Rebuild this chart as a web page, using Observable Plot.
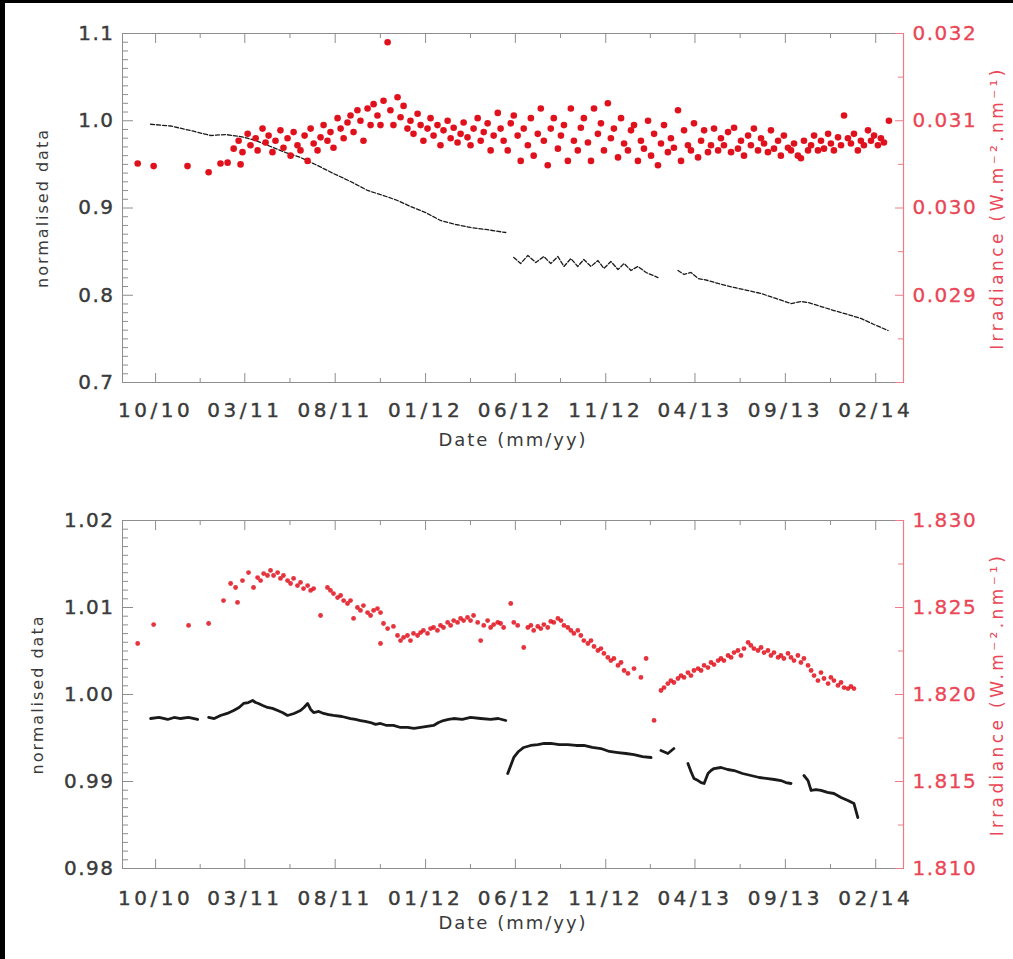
<!DOCTYPE html>
<html><head><meta charset="utf-8">
<script src="https://cdn.jsdelivr.net/npm/d3@7"></script>
<script src="https://cdn.jsdelivr.net/npm/@observablehq/plot@0.6"></script>
<style>
html,body{margin:0;padding:0;background:#fff;}
body{width:1013px;height:959px;position:relative;overflow:hidden;font-family:"DejaVu Sans",sans-serif;}
.layer{position:absolute;left:0;}
.layer svg{display:block;}
#bl{position:absolute;left:0;top:0;width:5px;height:959px;background:#000;}
#bt{position:absolute;left:0;top:0;width:1013px;height:3px;background:#000;}
g[aria-label="x-axis tick label"] text{letter-spacing:3.5px;stroke:#3a3a3a;stroke-width:0.4px;}
g[aria-label="y-axis tick label"] text{letter-spacing:1.5px;stroke:#3a3a3a;stroke-width:0.4px;}
.red g[aria-label="y-axis tick label"] text{stroke:#ea4656;stroke-width:0.3px;}
g[aria-label="text"] text{letter-spacing:2px;}
.red g[aria-label="text"] text{letter-spacing:3.4px;}
</style></head><body>
<div id="p1l" class="layer" style="top:0"></div>
<div id="p1r" class="layer red" style="top:0"></div>
<div id="p2l" class="layer" style="top:480px"></div>
<div id="p2r" class="layer red" style="top:480px"></div>
<div id="bl"></div><div id="bt"></div>
<script>
// ---------- data (time in decimal years) ----------
const xTickDates = ["2010-10-01","2011-03-01","2011-08-01","2012-01-01","2012-06-01","2012-11-01","2013-04-01","2013-09-01","2014-02-01"];
const dateRange = ["2010-08-06","2014-03-20"];

const topLeftTicks = [0.7, 0.8, 0.9, 1.0, 1.1];
const topRightTicks = [0.029, 0.030, 0.031, 0.032];
const botLeftTicks = [0.98, 0.99, 1.00, 1.01, 1.02];
const botRightTicks = [1.810, 1.815, 1.820, 1.825, 1.830];

// panel 1: normalised data (black)
const topNormalised = [
 [2010.725,0.996],[2010.818,0.994],[2010.924,0.988],[2011.003,0.9831],[2011.073,0.9842],[2011.142,0.9819],
 [2011.212,0.9774],[2011.281,0.9705],[2011.351,0.9636],[2011.420,0.9579],[2011.499,0.9487],[2011.573,0.9395],
 [2011.652,0.9304],[2011.731,0.9201],[2011.805,0.9143],[2011.870,0.9086],[2011.930,0.9017],[2012.000,0.8948],
 [2012.069,0.8857],[2012.139,0.8811],[2012.208,0.8777],[2012.278,0.8754],[2012.371,0.8719],
 null,
 [2012.408,0.8433],[2012.440,0.8364],[2012.473,0.8456],[2012.510,0.8375],[2012.547,0.8444],[2012.579,0.8364],
 [2012.612,0.8444],[2012.640,0.8330],[2012.672,0.8421],[2012.704,0.8330],[2012.732,0.8410],[2012.765,0.8330],
 [2012.797,0.8398],[2012.825,0.8307],[2012.857,0.8387],[2012.890,0.8295],[2012.918,0.8364],[2012.950,0.8284],
 [2012.982,0.8330],[2013.020,0.8261],[2013.075,0.8203],
 null,
 [2013.168,0.8284],[2013.196,0.8238],[2013.228,0.8261],[2013.261,0.8192],[2013.307,0.8169],[2013.354,0.8135],
 [2013.428,0.8089],[2013.493,0.8054],[2013.553,0.8020],[2013.622,0.7963],[2013.692,0.7905],[2013.738,0.7928],
 [2013.771,0.7917],[2013.831,0.7871],[2013.891,0.7825],[2013.956,0.7779],[2014.016,0.7734],[2014.077,0.7665],
 [2014.142,0.7596]
];

// panel 1: irradiance (red)
const topIrradiance = [
 [2010.665,0.03051],[2010.739,0.03048],[2010.896,0.03048],[2010.994,0.03041],[2011.049,0.03051],[2011.082,0.03052],
 [2011.142,0.03050],[2011.110,0.03068],[2011.133,0.03077],[2011.151,0.03064],[2011.175,0.03085],[2011.188,0.03072],
 [2011.212,0.03080],[2011.221,0.03066],[2011.244,0.03091],[2011.258,0.03075],[2011.272,0.03083],[2011.290,0.03064],
 [2011.304,0.03077],[2011.327,0.03089],[2011.341,0.03069],[2011.360,0.03080],[2011.374,0.03060],[2011.388,0.03087],
 [2011.406,0.03072],[2011.420,0.03066],[2011.439,0.03083],[2011.453,0.03054],[2011.467,0.03091],[2011.481,0.03074],
 [2011.499,0.03066],[2011.513,0.03081],[2011.527,0.03095],[2011.545,0.03077],[2011.559,0.03087],[2011.573,0.03069],
 [2011.592,0.03103],[2011.606,0.03091],[2011.620,0.03080],[2011.638,0.03098],[2011.652,0.03106],[2011.666,0.03087],
 [2011.684,0.03112],[2011.698,0.03100],[2011.712,0.03077],[2011.731,0.03114],[2011.745,0.03095],[2011.759,0.03119],
 [2011.777,0.03106],[2011.791,0.03095],[2011.805,0.03123],[2011.824,0.03190],[2011.837,0.03112],[2011.851,0.03095],
 [2011.870,0.03127],[2011.884,0.03104],[2011.898,0.03117],[2011.916,0.03091],[2011.930,0.03100],[2011.944,0.03085],
 [2011.963,0.03108],[2011.977,0.03095],[2011.990,0.03077],[2012.009,0.03091],[2012.023,0.03103],[2012.037,0.03083],
 [2012.055,0.03095],[2012.069,0.03072],[2012.083,0.03089],[2012.102,0.03100],[2012.116,0.03080],[2012.130,0.03092],
 [2012.148,0.03075],[2012.162,0.03085],[2012.176,0.03098],[2012.194,0.03081],[2012.208,0.03072],[2012.222,0.03091],
 [2012.241,0.03103],[2012.255,0.03077],[2012.269,0.03087],[2012.287,0.03097],[2012.301,0.03066],[2012.315,0.03083],
 [2012.334,0.03109],[2012.347,0.03091],[2012.361,0.03077],[2012.380,0.03066],[2012.394,0.03097],[2012.408,0.03106],
 [2012.426,0.03083],[2012.440,0.03054],[2012.454,0.03091],[2012.473,0.03072],[2012.487,0.03103],[2012.500,0.03060],
 [2012.519,0.03085],[2012.533,0.03114],[2012.547,0.03077],[2012.565,0.03049],[2012.579,0.03091],[2012.593,0.03103],
 [2012.612,0.03068],[2012.626,0.03083],[2012.640,0.03095],[2012.658,0.03054],[2012.672,0.03114],[2012.686,0.03077],
 [2012.704,0.03066],[2012.718,0.03092],[2012.732,0.03103],[2012.751,0.03075],[2012.765,0.03054],[2012.779,0.03114],
 [2012.797,0.03085],[2012.811,0.03097],[2012.825,0.03066],[2012.843,0.03120],[2012.857,0.03080],[2012.871,0.03091],
 [2012.890,0.03058],[2012.904,0.03103],[2012.918,0.03074],[2012.936,0.03066],[2012.950,0.03089],[2012.964,0.03095],
 [2012.982,0.03054],[2012.996,0.03077],[2013.010,0.03068],[2013.029,0.03100],[2013.043,0.03060],[2013.057,0.03085],
 [2013.075,0.03049],[2013.089,0.03074],[2013.103,0.03095],[2013.121,0.03064],[2013.135,0.03080],[2013.149,0.03069],
 [2013.168,0.03112],[2013.182,0.03054],[2013.196,0.03089],[2013.214,0.03072],[2013.228,0.03066],[2013.242,0.03097],
 [2013.261,0.03058],[2013.275,0.03077],[2013.289,0.03089],[2013.307,0.03064],[2013.321,0.03072],[2013.335,0.03091],
 [2013.354,0.03066],[2013.367,0.03080],[2013.381,0.03072],[2013.400,0.03087],[2013.414,0.03064],[2013.428,0.03092],
 [2013.446,0.03068],[2013.460,0.03077],[2013.474,0.03060],[2013.493,0.03083],[2013.506,0.03072],[2013.520,0.03091],
 [2013.539,0.03066],[2013.553,0.03080],[2013.567,0.03074],[2013.585,0.03064],[2013.599,0.03089],[2013.613,0.03068],
 [2013.632,0.03077],[2013.645,0.03060],[2013.659,0.03083],[2013.678,0.03069],[2013.692,0.03066],[2013.706,0.03074],
 [2013.724,0.03060],[2013.738,0.03057],[2013.752,0.03077],[2013.771,0.03066],[2013.785,0.03072],[2013.799,0.03083],
 [2013.817,0.03066],[2013.831,0.03077],[2013.845,0.03068],[2013.864,0.03085],[2013.877,0.03074],[2013.891,0.03066],
 [2013.910,0.03081],[2013.924,0.03072],[2013.938,0.03106],[2013.956,0.03080],[2013.970,0.03074],[2013.984,0.03085],
 [2014.002,0.03066],[2014.016,0.03077],[2014.030,0.03072],[2014.049,0.03089],[2014.063,0.03077],[2014.077,0.03083],
 [2014.095,0.03072],[2014.109,0.03080],[2014.123,0.03075],[2014.146,0.03100]
];

// panel 2: normalised data (black)
const botNormalised = [
 [2010.725,0.99724],[2010.764,0.99736],[2010.804,0.99713],[2010.834,0.99736],[2010.864,0.99724],[2010.900,0.99736],[2010.943,0.99713],
 null,
 [2010.994,0.99736],[2011.020,0.99724],[2011.049,0.99759],[2011.080,0.99782],[2011.110,0.99816],[2011.135,0.99851],[2011.156,0.99897],[2011.178,0.99908],[2011.198,0.99931],[2011.212,0.99908],[2011.225,0.99897],
 [2011.245,0.99874],[2011.267,0.99851],[2011.290,0.99840],[2011.314,0.99816],[2011.336,0.99793],[2011.360,0.99759],[2011.390,0.99782],[2011.420,0.99816],[2011.436,0.99851],[2011.453,0.99897],[2011.467,0.99828],[2011.481,0.99793],
 [2011.505,0.99805],[2011.527,0.99782],[2011.550,0.99770],[2011.573,0.99759],[2011.612,0.99747],[2011.652,0.99724],[2011.675,0.99713],[2011.698,0.99701],[2011.720,0.99690],[2011.745,0.99678],[2011.768,0.99656],[2011.791,0.99667],
 [2011.820,0.99644],[2011.851,0.99644],[2011.884,0.99621],[2011.916,0.99621],[2011.946,0.99610],[2011.977,0.99621],[2012.007,0.99633],[2012.037,0.99644],[2012.060,0.99678],[2012.083,0.99701],[2012.106,0.99713],[2012.130,0.99724],
 [2012.170,0.99713],[2012.208,0.99736],[2012.255,0.99724],[2012.301,0.99713],[2012.336,0.99724],[2012.371,0.99701],
 null,
 [2012.380,0.99092],[2012.394,0.99184],[2012.408,0.99276],[2012.430,0.99345],[2012.454,0.99391],[2012.486,0.99414],[2012.519,0.99425],[2012.549,0.99437],[2012.579,0.99437],[2012.618,0.99425],[2012.658,0.99425],
 [2012.695,0.99414],[2012.732,0.99414],[2012.771,0.99391],[2012.811,0.99379],[2012.850,0.99345],[2012.890,0.99333],[2012.927,0.99322],[2012.964,0.99310],[2013.003,0.99287],[2013.043,0.99276],
 null,
 [2013.089,0.99356],[2013.121,0.99322],[2013.149,0.99379],
 null,
 [2013.214,0.99207],[2013.228,0.99115],[2013.242,0.99034],[2013.261,0.99011],[2013.275,0.98988],[2013.289,0.98977],[2013.307,0.99092],[2013.321,0.99126],[2013.335,0.99149],
 [2013.367,0.99161],[2013.398,0.99138],[2013.428,0.99126],[2013.467,0.99092],[2013.506,0.99069],[2013.545,0.99046],[2013.585,0.99034],[2013.615,0.99023],[2013.645,0.99011],[2013.668,0.98988],[2013.692,0.98977],
 null,
 [2013.752,0.99069],[2013.771,0.99011],[2013.785,0.98897],[2013.808,0.98908],[2013.831,0.98897],[2013.861,0.98874],[2013.891,0.98862],[2013.924,0.98816],[2013.956,0.98782],
 [2013.984,0.98747],[2014.002,0.98586]
];

// panel 2: irradiance (red)
const botIrradiance = [
 [2010.665,1.82293],[2010.739,1.82402],[2010.901,1.82397],[2010.994,1.82408],[2011.063,1.82540],[2011.128,1.82529],
 [2011.096,1.82638],[2011.119,1.82615],[2011.151,1.82655],[2011.179,1.82701],[2011.202,1.82615],[2011.221,1.82672],
 [2011.235,1.82655],[2011.249,1.82695],[2011.267,1.82684],[2011.281,1.82713],[2011.295,1.82684],[2011.314,1.82701],
 [2011.327,1.82667],[2011.341,1.82684],[2011.360,1.82655],[2011.374,1.82638],[2011.388,1.82667],[2011.406,1.82626],
 [2011.420,1.82644],[2011.434,1.82609],[2011.453,1.82626],[2011.467,1.82598],[2011.481,1.82609],[2011.513,1.82454],
 [2011.545,1.82615],[2011.559,1.82598],[2011.573,1.82580],[2011.592,1.82557],[2011.606,1.82569],[2011.620,1.82540],
 [2011.638,1.82523],[2011.652,1.82540],[2011.666,1.82437],[2011.684,1.82500],[2011.698,1.82483],[2011.712,1.82511],
 [2011.731,1.82471],[2011.745,1.82454],[2011.759,1.82483],[2011.777,1.82494],[2011.791,1.82471],[2011.791,1.82293],
 [2011.805,1.82408],[2011.824,1.82379],[2011.851,1.82391],[2011.870,1.82339],[2011.884,1.82310],[2011.898,1.82328],
 [2011.916,1.82339],[2011.930,1.82310],[2011.944,1.82351],[2011.963,1.82339],[2011.977,1.82356],[2011.990,1.82368],
 [2012.009,1.82351],[2012.023,1.82379],[2012.037,1.82385],[2012.055,1.82368],[2012.069,1.82397],[2012.083,1.82385],
 [2012.102,1.82414],[2012.116,1.82397],[2012.130,1.82425],[2012.148,1.82414],[2012.162,1.82437],[2012.176,1.82425],
 [2012.194,1.82443],[2012.208,1.82425],[2012.222,1.82454],[2012.241,1.82414],[2012.255,1.82310],[2012.269,1.82397],
 [2012.287,1.82425],[2012.301,1.82385],[2012.315,1.82402],[2012.334,1.82414],[2012.347,1.82408],[2012.361,1.82385],
 [2012.394,1.82523],[2012.408,1.82414],[2012.426,1.82397],[2012.454,1.82270],[2012.473,1.82385],[2012.487,1.82397],
 [2012.500,1.82368],[2012.519,1.82391],[2012.533,1.82379],[2012.547,1.82402],[2012.565,1.82385],[2012.579,1.82420],
 [2012.593,1.82414],[2012.612,1.82437],[2012.626,1.82425],[2012.640,1.82397],[2012.658,1.82385],[2012.672,1.82368],
 [2012.686,1.82351],[2012.704,1.82368],[2012.718,1.82339],[2012.732,1.82310],[2012.751,1.82293],[2012.765,1.82310],
 [2012.779,1.82276],[2012.797,1.82253],[2012.811,1.82264],[2012.825,1.82236],[2012.843,1.82213],[2012.857,1.82195],
 [2012.871,1.82207],[2012.890,1.82167],[2012.904,1.82184],[2012.918,1.82138],[2012.936,1.82121],[2012.964,1.82149],
 [2012.996,1.82098],[2013.020,1.82207],[2013.057,1.81851],[2013.089,1.82023],[2013.103,1.82040],[2013.121,1.82063],
 [2013.135,1.82080],[2013.149,1.82069],[2013.168,1.82092],[2013.182,1.82109],[2013.196,1.82098],[2013.214,1.82126],
 [2013.228,1.82109],[2013.242,1.82138],[2013.261,1.82149],[2013.275,1.82138],[2013.289,1.82167],[2013.307,1.82155],
 [2013.321,1.82184],[2013.335,1.82172],[2013.354,1.82195],[2013.367,1.82207],[2013.381,1.82195],[2013.400,1.82224],
 [2013.414,1.82213],[2013.428,1.82241],[2013.446,1.82253],[2013.460,1.82224],[2013.474,1.82264],[2013.493,1.82299],
 [2013.506,1.82282],[2013.520,1.82264],[2013.539,1.82253],[2013.553,1.82270],[2013.567,1.82241],[2013.585,1.82253],
 [2013.599,1.82224],[2013.613,1.82241],[2013.632,1.82213],[2013.645,1.82224],[2013.659,1.82207],[2013.678,1.82236],
 [2013.692,1.82213],[2013.706,1.82195],[2013.724,1.82224],[2013.738,1.82184],[2013.752,1.82207],[2013.771,1.82167],
 [2013.785,1.82138],[2013.799,1.82109],[2013.817,1.82080],[2013.831,1.82126],[2013.845,1.82092],[2013.864,1.82063],
 [2013.877,1.82098],[2013.891,1.82080],[2013.910,1.82052],[2013.924,1.82069],[2013.938,1.82040],[2013.956,1.82034],
 [2013.970,1.82046],[2013.984,1.82034]
];

const xTitle = "Date (mm/yy)";
const leftTitle = "normalised data";
const rightTitle = "Irradiance (W.m\u207B\u00B2.nm\u207B\u00B9)";

// ---------- helpers ----------
const FONT = '"DejaVu Sans", Verdana, sans-serif';
const GRAY = "#8e8e8e";
const TXT = "#3a3a3a";
const RED = "#e0101c";
const RED_AXIS = "#ee7c86";
const RED_TXT = "#ea4656";
const W = 1013, ML = 122, MR = 110;

function toDate(y) {
  const yr = Math.floor(y);
  const a = Date.UTC(yr, 0, 1), b = Date.UTC(yr + 1, 0, 1);
  return new Date(a + (y - yr) * (b - a));
}
function rows(pairs) {
  return pairs.map(p => p == null ? {date: null, v: NaN} : {date: toDate(p[0]), v: p[1]});
}
const xDomain = dateRange.map(d => new Date(d));
const xMajor = xTickDates.map(d => new Date(d));
const xMinor = d3.pairs(xMajor).map(([a, b]) => new Date((+a + +b) / 2));
function steps(ticks, n) {
  const out = [];
  for (let i = 0; i < ticks.length - 1; i++) {
    const s = (ticks[i + 1] - ticks[i]) / n;
    for (let j = 1; j < n; j++) out.push(ticks[i] + j * s);
  }
  return out;
}
const blank = () => "";

// inward ticks: the tick direction of the opposite anchor, placed on this side of the frame
const inLeft = (ticks, size, stroke) => Plot.axisY({anchor: "right", frameAnchor: "left", ticks, tickSize: size, tickFormat: blank, stroke, label: null});
const inRight = (ticks, size, stroke) => Plot.axisY({anchor: "left", frameAnchor: "right", ticks, tickSize: size, tickFormat: blank, stroke, label: null});
const inBottom = (ticks, size, stroke) => Plot.axisX({anchor: "top", frameAnchor: "bottom", ticks, tickSize: size, tickFormat: blank, stroke, label: null});
const inTop = (ticks, size, stroke) => Plot.axisX({anchor: "bottom", frameAnchor: "top", ticks, tickSize: size, tickFormat: blank, stroke, label: null});

function leftLayer(c) {
  return Plot.plot({
    width: W, height: c.height,
    marginLeft: ML, marginRight: MR, marginTop: c.mt, marginBottom: c.mb,
    style: {background: "transparent", fontFamily: FONT, overflow: "visible"},
    x: {type: "utc", domain: xDomain, label: null},
    y: {domain: [c.ticks[0], c.ticks[c.ticks.length - 1]], label: null},
    marks: [
      Plot.frame({stroke: GRAY}),
      inLeft(steps(c.ticks, 10), 5, GRAY),
      inLeft(c.ticks, 10, GRAY),
      Plot.axisY({ticks: c.ticks, tickSize: 0, tickPadding: 8, tickFormat: d3.format(c.fmt), fill: TXT, fontSize: 20, label: null}),
      inBottom(xMinor, 5, GRAY),
      inBottom(xMajor, 10, GRAY),
      inTop(xMinor, 5, GRAY),
      inTop(xMajor, 10, GRAY),
      Plot.axisX({ticks: xMajor, tickSize: 0, tickPadding: c.xPad, tickFormat: d3.utcFormat("%m/%y"), fill: TXT, fontSize: 20, label: null}),
      Plot.line(rows(c.black), {x: "date", y: "v", stroke: "#1a1a1a", strokeWidth: c.bw, strokeDasharray: c.dash}),
      Plot.text([xTitle], {text: d => d, frameAnchor: "bottom", textAnchor: "middle", lineAnchor: "middle", dy: c.dateDy, fill: TXT, fontSize: 18}),
      Plot.text([leftTitle], {text: d => d, frameAnchor: "left", textAnchor: "middle", lineAnchor: "middle", rotate: -90, dx: c.ylDx, fill: TXT, fontSize: 16})
    ]
  });
}
function rightLayer(c) {
  return Plot.plot({
    width: W, height: c.height,
    marginLeft: ML, marginRight: MR, marginTop: c.mt, marginBottom: c.mb,
    style: {background: "transparent", fontFamily: FONT, overflow: "visible"},
    x: {type: "utc", domain: xDomain, label: null, axis: null},
    y: {domain: [c.ticks[0], c.ticks[c.ticks.length - 1]], label: null},
    marks: [
      Plot.ruleX([xDomain[1]], {stroke: RED_AXIS, strokeWidth: 1.2}),
      inRight(steps(c.ticks, 2), 5, RED_AXIS),
      inRight(c.ticks, 8, RED_AXIS),
      Plot.axisY({anchor: "right", ticks: c.labelTicks, tickSize: 0, tickPadding: 9, tickFormat: d3.format(".3f"), fill: RED_TXT, fontSize: 20, label: null}),
      Plot.dot(rows(c.red), {x: "date", y: "v", r: c.r, fill: RED, fillOpacity: c.op, stroke: null}),
      Plot.text([rightTitle], {text: d => d, frameAnchor: "right", textAnchor: "middle", lineAnchor: "middle", rotate: -90, dx: 94, fill: RED_TXT, fontSize: 17})
    ]
  });
}

document.getElementById("p1l").append(leftLayer({
  height: 480, mt: 33, mb: 98, ticks: topLeftTicks, fmt: ".1f", xPad: 20,
  black: topNormalised, bw: 1.3, dash: "4,2", dateDy: 58, ylDx: -80
}));
document.getElementById("p1r").append(rightLayer({
  height: 480, mt: 33, mb: 98, ticks: [0.028].concat(topRightTicks), labelTicks: topRightTicks,
  red: topIrradiance, r: 3.3, op: 1
}));
document.getElementById("p2l").append(leftLayer({
  height: 479, mt: 40, mb: 91, ticks: botLeftTicks, fmt: ".2f", xPad: 22,
  black: botNormalised, bw: 2.8, dash: null, dateDy: 55, ylDx: -85
}));
document.getElementById("p2r").append(rightLayer({
  height: 479, mt: 40, mb: 91, ticks: botRightTicks, labelTicks: botRightTicks,
  red: botIrradiance, r: 2.4, op: 0.85
}));
</script>
</body></html>
